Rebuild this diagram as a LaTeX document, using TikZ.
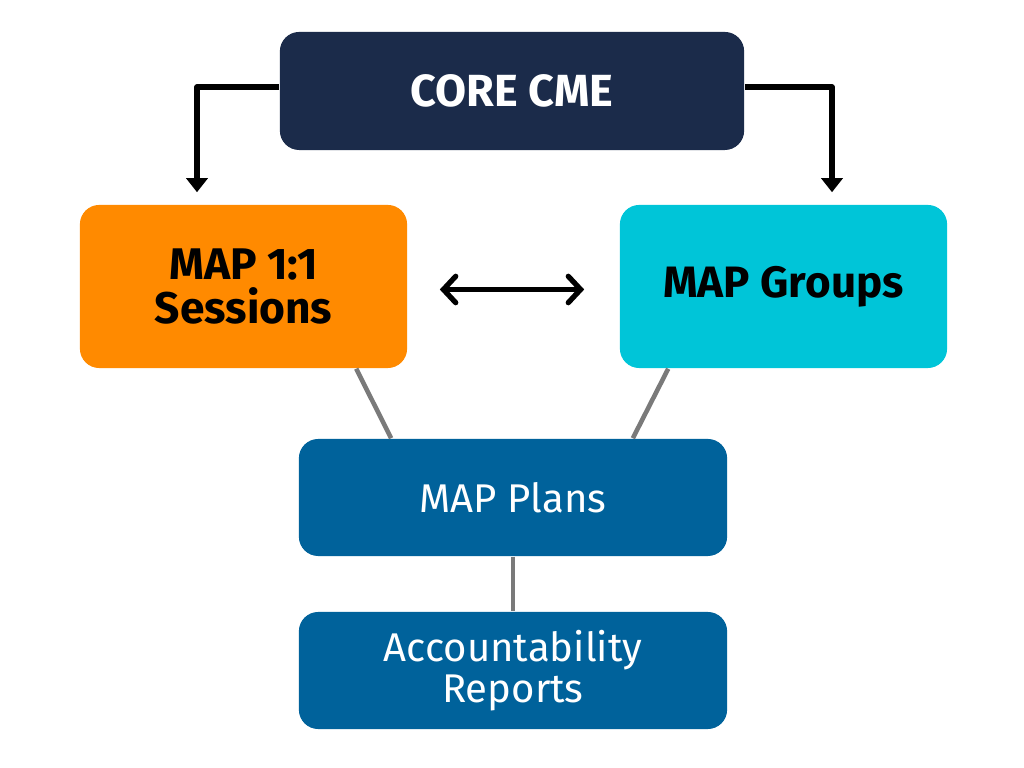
\documentclass[tikz,border=0pt]{standalone}
\usepackage{fontspec}
\setmainfont{Fira Sans}
\usepackage{tikz}
\usetikzlibrary{arrows.meta,positioning,calc}
\definecolor{corenavy}{HTML}{1B2B4A}
\definecolor{maporange}{HTML}{FF8A00}
\definecolor{mapcyan}{HTML}{00C5D8}
\definecolor{planblue}{HTML}{00629B}
\definecolor{linkgray}{HTML}{7A7A7A}
\tikzset{
  corebox/.style={rounded corners=5.5pt, align=center, minimum width=4.64cm, minimum height=1.18cm, inner sep=0pt, fill=corenavy, text=white, font=\fontsize{12.8}{15}\selectfont\bfseries},
  sessbox/.style={rounded corners=5.5pt, align=center, minimum width=3.27cm, minimum height=1.63cm, inner sep=0pt, fill=maporange, font=\fontsize{12.6}{12.6}\selectfont\bfseries},
  groupbox/.style={rounded corners=5.5pt, align=center, minimum width=3.27cm, minimum height=1.63cm, inner sep=0pt, fill=mapcyan, font=\fontsize{12.5}{12.5}\selectfont\bfseries},
  planbox/.style={rounded corners=5.5pt, align=center, minimum width=4.28cm, minimum height=1.17cm, inner sep=0pt, fill=planblue, text=white, font=\fontsize{11.4}{11.8}\selectfont},
  elbow/.style={-{Triangle[length=4pt,width=6pt]}, line width=1.5pt, line join=round},
  twoway/.style={{Straight Barb[length=3.5pt,width=7.5pt,line cap=round]}-{Straight Barb[length=3.5pt,width=7.5pt,line cap=round]}, line width=1.5pt, line cap=round},
  link/.style={line width=1.3pt, draw=linkgray}
}
\begin{document}
\begin{tikzpicture}[x=0.01cm,y=-0.01cm]
  \useasboundingbox (0,0) rectangle (1024,768);
  \node[corebox] (core) at (512,91) {CORE CME};
  \node[sessbox] (sess) at (243.5,286.5) {MAP 1:1\\Sessions};
  \node[groupbox] (grp) at (783.5,286.5) {MAP Groups};
  \node[planbox] (plans) at (513,497.5) {MAP Plans};
  \node[planbox] (acct) at (513,670.5) {Accountability\\Reports};
  \coordinate (lcorner) at (197,87);
  \coordinate (rcorner) at (832,87);
  \draw[elbow] (core.west |- lcorner) -- (lcorner) -- ($(sess.north -| lcorner)+(0,-12)$);
  \draw[elbow] (core.east |- rcorner) -- (rcorner) -- ($(grp.north -| rcorner)+(0,-12)$);
  \draw[twoway] ($(sess.east)+(32,3)$) -- ($(grp.west)+(-35,3)$);
  \draw[link] ($(sess.south west)+(277,0)$) -- ($(plans.north west)+(93,0)$);
  \draw[link] ($(grp.south west)+(49,0)$) -- ($(plans.north east)+(-95,0)$);
  \draw[link] (plans.south) -- (acct.north);
\end{tikzpicture}
\end{document}
